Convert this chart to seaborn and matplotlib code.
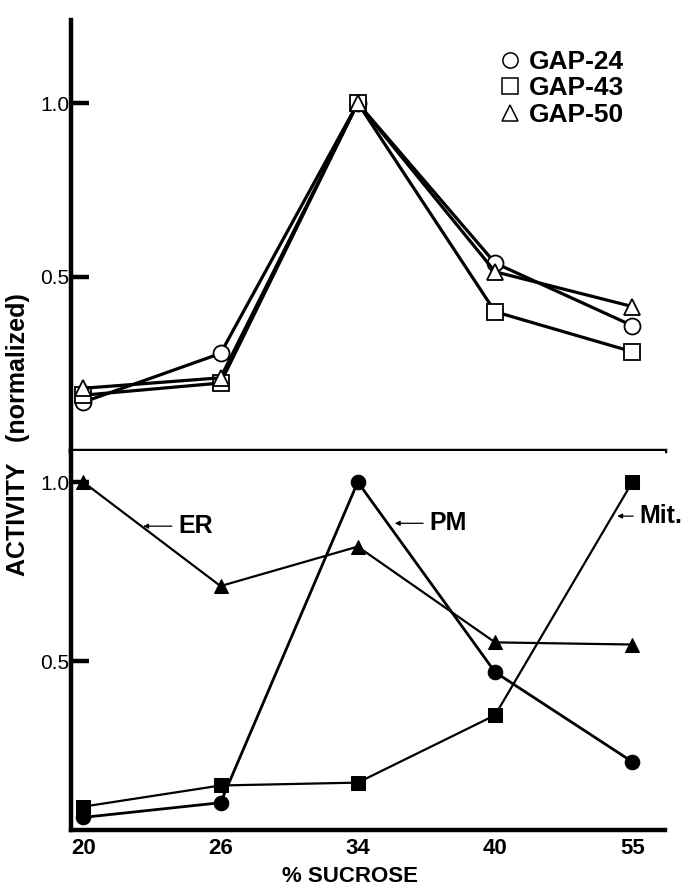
import numpy as np
import pandas as pd
import matplotlib
matplotlib.use("Agg")
import matplotlib.pyplot as plt
import seaborn as sns
from matplotlib.lines import Line2D

# % sucrose fractions (plotted as equally spaced categories)
sucrose = ["20", "26", "34", "40", "55"]

# top panel: GAP activities (normalized)
gap24 = [0.14, 0.28, 1.00, 0.54, 0.36]
gap43 = [0.16, 0.195, 1.00, 0.40, 0.285]
gap50 = [0.18, 0.21, 1.00, 0.515, 0.415]

# bottom panel: marker enzymes (normalized)
er = [1.00, 0.71, 0.82, 0.553, 0.547]
pm = [0.065, 0.106, 1.00, 0.47, 0.22]
mit = [0.095, 0.154, 0.162, 0.35, 1.00]

sns.set_theme(style="ticks", rc={"axes.edgecolor": "black", "text.color": "black",
                                 "xtick.color": "black", "ytick.color": "black",
                                 "axes.labelcolor": "black"})
plt.rcParams["font.family"] = ["Liberation Sans", "DejaVu Sans"]

fig = plt.figure(figsize=(6.88, 8.91), dpi=100)
ax1 = fig.add_axes([0.103, 0.494, 0.864, 0.484])
ax2 = fig.add_axes([0.103, 0.0685, 0.864, 0.4255])

xpos = np.arange(len(sucrose))

# --- top panel (open symbols)
top = [("GAP-24", gap24, "o"), ("GAP-43", gap43, "s"), ("GAP-50", gap50, "^")]
for name, vals, mk in top:
    sns.lineplot(x=xpos, y=vals, ax=ax1, color="black", linewidth=2.3,
                 marker=mk, markersize=11.5, markerfacecolor="white",
                 markeredgecolor="black", markeredgewidth=1.3)

# --- bottom panel (filled symbols)
bottom = [("ER", er, "^", 1.6), ("PM", pm, "o", 2.0), ("Mit.", mit, "s", 1.6)]
for name, vals, mk, lw in bottom:
    sns.lineplot(x=xpos, y=vals, ax=ax2, color="black", linewidth=lw,
                 marker=mk, markersize=10.5, markerfacecolor="black",
                 markeredgecolor="black")

for ax in (ax1, ax2):
    ax.set_xlim(-0.09, 4.24)
    ax.spines["top"].set_visible(False)
    ax.spines["right"].set_visible(False)
    ax.spines["left"].set_linewidth(3.2)
    ax.spines["bottom"].set_linewidth(3.2)
    ax.set_yticks([0.5, 1.0])
    ax.set_yticklabels(["0.5", "1.0"])
    ax.tick_params(axis="y", direction="in", length=13, width=3.2,
                   labelsize=15, pad=1)
    ax.set_xlabel("")
    ax.set_ylabel("")

ax1.set_ylim(0, 1.24)
ax2.set_ylim(0.03, 1.087)

ax1.set_xticks(xpos)
ax1.tick_params(axis="x", length=0, labelbottom=False)
ax2.set_xticks(xpos)
ax2.set_xticklabels(sucrose, fontweight="bold")
ax2.tick_params(axis="x", length=0, labelsize=16, pad=6)

# legend with open markers only
handles = [Line2D([], [], linestyle="none", marker=mk, markersize=11,
                  markerfacecolor="white", markeredgecolor="black",
                  markeredgewidth=1.1, label=name) for name, _, mk in top]
leg = ax1.legend(handles=handles, loc="upper right", frameon=False,
                 bbox_to_anchor=(0.97, 0.985), handlelength=0.8,
                 handletextpad=0.3, labelspacing=0.1,
                 prop={"weight": "bold", "size": 19})

# curve labels with arrows
arrow = dict(arrowstyle="-|>", color="black", lw=0.9, mutation_scale=7,
             shrinkA=2, shrinkB=0)
ax2.annotate("ER", xy=(0.437, 0.877), xytext=(0.69, 0.877),
             ha="left", va="center", fontsize=18, fontweight="bold",
             arrowprops=arrow)
ax2.annotate("PM", xy=(2.27, 0.885), xytext=(2.52, 0.885),
             ha="left", va="center", fontsize=18, fontweight="bold",
             arrowprops=arrow)
ax2.annotate("Mit.", xy=(3.89, 0.905), xytext=(4.05, 0.905),
             ha="left", va="center", fontsize=18, fontweight="bold",
             arrowprops=arrow, annotation_clip=False)

fig.text(0.026, 0.512, "ACTIVITY   (normalized)", rotation=90,
         ha="center", va="center", fontsize=18, fontweight="bold")
fig.text(350 / 688, 1 - 876 / 891, "% SUCROSE", ha="center", va="center",
         fontsize=16, fontweight="bold")

fig.savefig("out.png", dpi=100)
